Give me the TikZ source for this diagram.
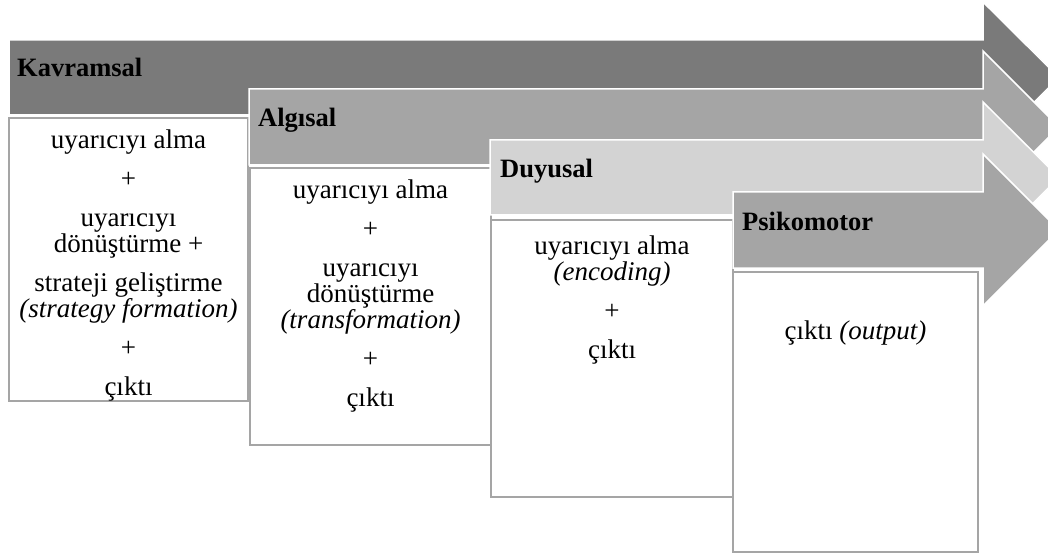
\documentclass[tikz,border=0pt]{standalone}
\usepackage{fontspec}
\setmainfont{Liberation Serif}
\usetikzlibrary{positioning}
\definecolor{darkband}{RGB}{122,122,122}
\definecolor{midband}{RGB}{165,165,165}
\definecolor{lightband}{RGB}{211,211,211}
\tikzset{
  band/.style={draw=white,line width=1.5pt},
  stagebox/.style={draw=midband,fill=white,line width=1.8pt,anchor=north west,outer sep=0pt,inner sep=0pt},
  stagelabel/.style={anchor=base west,inner sep=0pt,font=\bfseries\fontsize{26.5}{30}\selectfont},
  stagetext/.style={anchor=north,inner sep=0pt,align=center,font=\fontsize{27}{26}\selectfont}
}
\begin{document}
\begin{tikzpicture}[x=1pt,y=-1pt]
\useasboundingbox (0,0) rectangle (1048,553);
\clip (0,0) rectangle (1048,553);
% Kavramsal
\filldraw[band,fill=darkband] (9,40) -- (983,40) -- (983,2) -- (1059,77.5) -- (983,153) -- (983,115) -- (9,115) -- cycle;
\node[stagelabel] (kavLabel) at (17,77) {Kavramsal};
\node[stagebox,minimum width=239pt,minimum height=283pt] (kavBox) at (9,118) {};
\node[stagetext,below=11.5pt of kavBox.north] (kavText)
  {uyarıcıyı alma\\[13pt] +\\[13pt] uyarıcıyı\\ dönüştürme +\\[13pt]
   strateji geliştirme\\ \textit{(strategy formation)}\\[13pt] +\\[13pt] çıktı};
% Algisal
\filldraw[band,fill=midband] (249,89) -- (983,89) -- (983,51) -- (1059,127) -- (983,203) -- (983,165) -- (249,165) -- cycle;
\node[stagelabel] (algLabel) at (258,127) {Algısal};
\node[stagebox,minimum width=241pt,minimum height=277pt] (algBox) at (250,168) {};
\node[stagetext,below=11.5pt of algBox.north] (algText)
  {uyarıcıyı alma\\[13pt] +\\[13pt] uyarıcıyı\\ dönüştürme\\ \textit{(transformation)}\\[13pt] +\\[13pt] çıktı};
% Duyusal
\filldraw[band,fill=lightband] (490,140) -- (983,140) -- (983,102) -- (1059,177.5) -- (983,253) -- (983,215) -- (490,215) -- cycle;
\node[stagelabel] (duyLabel) at (500,178) {Duyusal};
\node[stagebox,minimum width=242pt,minimum height=277pt] (duyBox) at (491,220) {};
\node[stagetext,below=16pt of duyBox.north] (duyText)
  {uyarıcıyı alma\\ \textit{(encoding)}\\[13pt] +\\[13pt] çıktı};
% Psikomotor
\filldraw[band,fill=midband] (733,192) -- (983,192) -- (983,154) -- (1059,230) -- (983,306) -- (983,268) -- (733,268) -- cycle;
\node[stagelabel] (psiLabel) at (742,230) {Psikomotor};
\node[stagebox,minimum width=245pt,minimum height=280pt] (psiBox) at (733,272) {};
\node[stagetext,below=49pt of psiBox.north] (psiText) {çıktı \textit{(output)}};
\end{tikzpicture}
\end{document}
